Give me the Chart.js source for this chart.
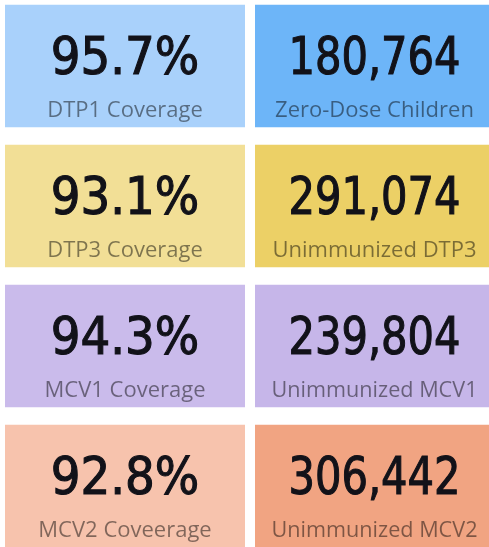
<!DOCTYPE html>
<html>
<head>
<meta charset="utf-8">
<script src="https://cdn.jsdelivr.net/npm/chart.js@4.4.1/dist/chart.umd.min.js"></script>
<style>
  html, body { margin: 0; padding: 0; background: #fff; overflow: hidden; width: 489px; height: 547px; }
  #wrap { position: absolute; left: 0; top: -4px; width: 500px; height: 560px; }
</style>
</head>
<body>
<div id="wrap"><canvas id="kpi" width="500" height="560"></canvas></div>
<script>
// ========== KPI values (one row per antigen) ==========
const rows = ['DTP1', 'DTP3', 'MCV1', 'MCV2'];
const coverageLabels = ['DTP1 Coverage', 'DTP3 Coverage', 'MCV1 Coverage', 'MCV2 Coveerage'];
const coverageValues = [95.7, 93.1, 94.3, 92.8];
const countLabels = ['Zero-Dose Children', 'Unimmunized DTP3', 'Unimmunized MCV1', 'Unimmunized MCV2'];
const countValues = [180764, 291074, 239804, 306442];

const coverageColors = ['#a9d1fb', '#f2df96', '#cabbeb', '#f7c3ad'];
const countColors = ['#6db5f8', '#ecd066', '#c6b6e9', '#f1a482'];

// Each card is one floating bar: column 0 = coverage, column 1 = head count
const coverageText = coverageValues.map(v => v.toFixed(1) + '%');
const countText = countValues.map(v => v.toLocaleString('en-US'));

const cardText = {
  id: 'cardText',
  afterDatasetsDraw(chart) {
    const ctx = chart.ctx;
    const sets = [
      { values: coverageText, labels: coverageLabels },
      { values: countText, labels: countLabels }
    ];
    sets.forEach((set, d) => {
      const meta = chart.getDatasetMeta(d);
      const bw = chart.data.datasets[d].borderWidth;
      meta.data.forEach((bar, i) => {
        const { x, base, y, height } = bar.getProps(['x', 'base', 'y', 'height'], true);
        const left = Math.min(x, base) + bw.left;
        const right = Math.max(x, base) - bw.right;
        const cx = (left + right) / 2;
        const top = y - height / 2;
        const w = right - left;

        ctx.save();
        ctx.textAlign = 'center';
        ctx.textBaseline = 'alphabetic';
        // big number - a touch of stroke to get the medium DIN weight
        ctx.fillStyle = '#121219';
        ctx.strokeStyle = '#121219';
        ctx.lineWidth = 1.1;
        ctx.font = '52px "DejaVu Sans Condensed", "DejaVu Sans", sans-serif';
        ctx.fillText(set.values[i], cx, top + 70, 172);
        ctx.strokeText(set.values[i], cx, top + 70, 172);

        ctx.fillStyle = 'rgba(0, 0, 0, 0.48)';
        ctx.font = '22px "Open Sans", "Noto Sans", sans-serif';
        ctx.fillText(set.labels[i], cx, top + 113, 206);
        ctx.restore();
      });
    });
  }
};

new Chart(document.getElementById('kpi'), {
  type: 'bar',
  data: {
    labels: rows,
    datasets: [
      {
        label: 'Coverage',
        data: rows.map(() => [0, 1]),
        backgroundColor: coverageColors,
        borderColor: '#ffffff',
        borderWidth: { left: 5, right: 5, top: 0, bottom: 0 },
        borderSkipped: false,
        grouped: false,
        barPercentage: 0.88,
        categoryPercentage: 1
      },
      {
        label: 'Unimmunized',
        data: rows.map(() => [1, 2]),
        backgroundColor: countColors,
        borderColor: '#ffffff',
        // right edge runs off the page, the white strip stays hidden
        borderWidth: { left: 5, right: 6, top: 0, bottom: 0 },
        borderSkipped: false,
        grouped: false,
        barPercentage: 0.88,
        categoryPercentage: 1
      }
    ]
  },
  options: {
    indexAxis: 'y',
    responsive: false,
    animation: false,
    devicePixelRatio: 1,
    layout: { padding: 0 },
    plugins: {
      legend: { display: false },
      tooltip: { enabled: false }
    },
    scales: {
      x: { type: 'linear', min: 0, max: 2, display: false },
      y: { type: 'category', display: false }
    }
  },
  plugins: [cardText]
});
</script>
</body>
</html>
